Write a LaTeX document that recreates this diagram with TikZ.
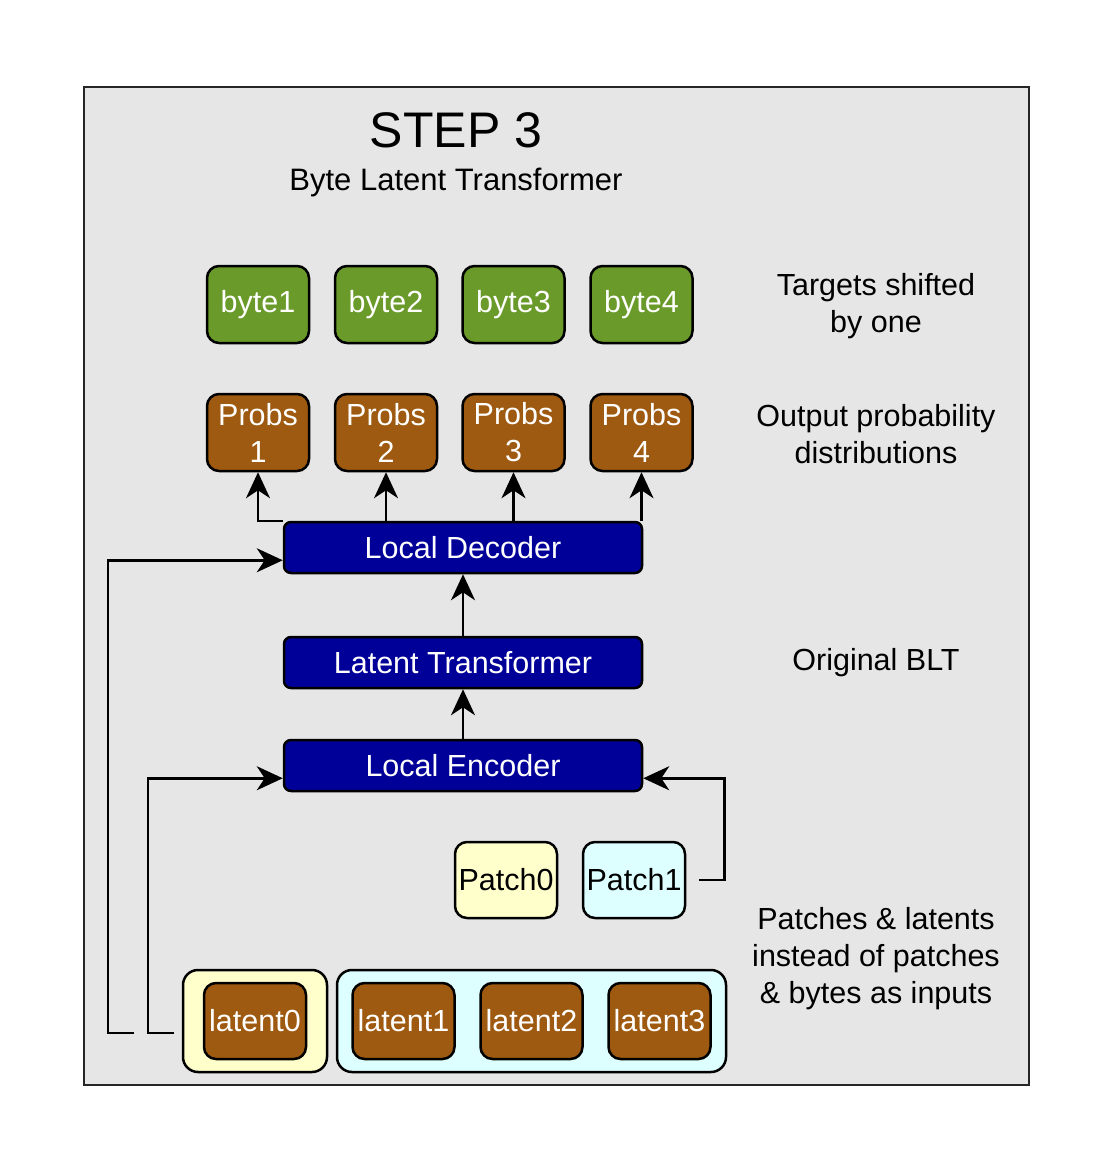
\documentclass[tikz,border=0pt]{standalone}
\usepackage{fontspec}
\setmainfont{Liberation Sans}
\usetikzlibrary{arrows.meta}
\definecolor{bgc}{HTML}{E6E6E6}
\definecolor{grn}{HTML}{6A9A2A}
\definecolor{brn}{HTML}{9E5A10}
\definecolor{blu}{HTML}{000099}
\definecolor{ylw}{HTML}{FFFFCC}
\definecolor{cyn}{HTML}{DDFFFF}
\tikzset{
  base/.style={draw=black, line width=2.5pt, inner sep=0pt, align=center,
    font=\fontsize{30.5}{37}\selectfont},
  smallbox/.style={base, rounded corners=12pt, minimum width=102pt, minimum height=77pt},
  bytebox/.style={smallbox, fill=grn, text=white},
  probbox/.style={smallbox, fill=brn, text=white},
  latbox/.style={smallbox, fill=brn, text=white, minimum height=76pt},
  widebox/.style={base, rounded corners=7pt, fill=blu, text=white, minimum width=358pt, minimum height=51pt},
  groupbox/.style={draw=black, line width=2.5pt, rounded corners=15pt, minimum height=102pt, inner sep=0pt},
  lbl/.style={align=center, font=\fontsize{30.5}{37}\selectfont},
  arr/.style={line width=2.5pt, -{Stealth[length=26pt,width=24pt,inset=8pt]}},
  ln/.style={line width=2.5pt}
}
\begin{document}
\begin{tikzpicture}[x=1pt,y=-1pt]
\useasboundingbox (0,0) rectangle (1113,1175);
\fill[white] (0,0) rectangle (1113,1175);
\node[draw=black!85, line width=2pt, fill=bgc, minimum width=945pt, minimum height=998pt, inner sep=0pt] (frame) at (556.5,586) {};

\node[font=\fontsize{50}{60}\selectfont] (title) at (456,130) {STEP 3};
\node[font=\fontsize{31}{36}\selectfont] (subtitle) at (456,182) {Byte Latent Transformer};

\node[bytebox] (b1) at (258,304.5) {byte1};
\node[bytebox] (b2) at (386,304.5) {byte2};
\node[bytebox] (b3) at (513.5,304.5) {byte3};
\node[bytebox] (b4) at (641.5,304.5) {byte4};

\node[probbox] (p1) at (258,432.5) {Probs\\1};
\node[probbox] (p2) at (386,432.5) {Probs\\2};
\node[probbox] (p3) at (513.5,432.5) {Probs\\3};
\node[probbox] (p4) at (641.5,432.5) {Probs\\4};

\node[widebox] (dec) at (463,547.5) {Local Decoder};
\node[widebox] (lt) at (463,662.5) {Latent Transformer};
\node[widebox] (enc) at (463,765.5) {Local Encoder};

\node[smallbox, fill=ylw, minimum height=76pt] (pa0) at (506,880) {Patch0};
\node[smallbox, fill=cyn, minimum height=76pt] (pa1) at (634,880) {Patch1};

\node[groupbox, fill=ylw, minimum width=144pt] (g0) at (255,1021) {};
\node[groupbox, fill=cyn, minimum width=389pt] (g1) at (531.5,1021) {};
\node[latbox] (l0) at (255,1021) {latent0};
\node[latbox] (l1) at (403.5,1021) {latent1};
\node[latbox] (l2) at (531.5,1021) {latent2};
\node[latbox] (l3) at (659.5,1021) {latent3};

\node[lbl] (t1) at (876,306) {Targets shifted\\by one};
\node[lbl] (t2) at (876,434) {Output probability\\distributions};
\node[lbl] (t3) at (876,663) {Original BLT};
\node[lbl] (t4) at (876,959) {Patches \& latents\\instead of patches\\\& bytes as inputs};

% connectors
\draw[arr] (dec.north west) -| (p1.south);
\draw[arr] (dec.north -| p2.south) -- (p2.south);
\draw[arr] (dec.north -| p3.south) -- (p3.south);
\draw[arr] (dec.north -| p4.south) -- (p4.south);
\draw[arr] (lt.north) -- (dec.south);
\draw[arr] (enc.north) -- (lt.south);

\coordinate (decin) at ([yshift=-12.75pt]dec.west);
\coordinate (encinl) at ([yshift=-12.75pt]enc.west);
\coordinate (encinr) at ([yshift=-12.75pt]enc.east);
\coordinate (pout) at ([xshift=13pt]pa1.east);
\coordinate (l0a) at (134,1033);
\coordinate (l0b) at (174,1033);

\draw[arr] (pout) -- ++(25,0) |- (encinr);
\draw[arr] (l0b) -- ++(-26,0) |- (encinl);
\draw[arr] (l0a) -- ++(-26,0) |- (decin);
\end{tikzpicture}
\end{document}
